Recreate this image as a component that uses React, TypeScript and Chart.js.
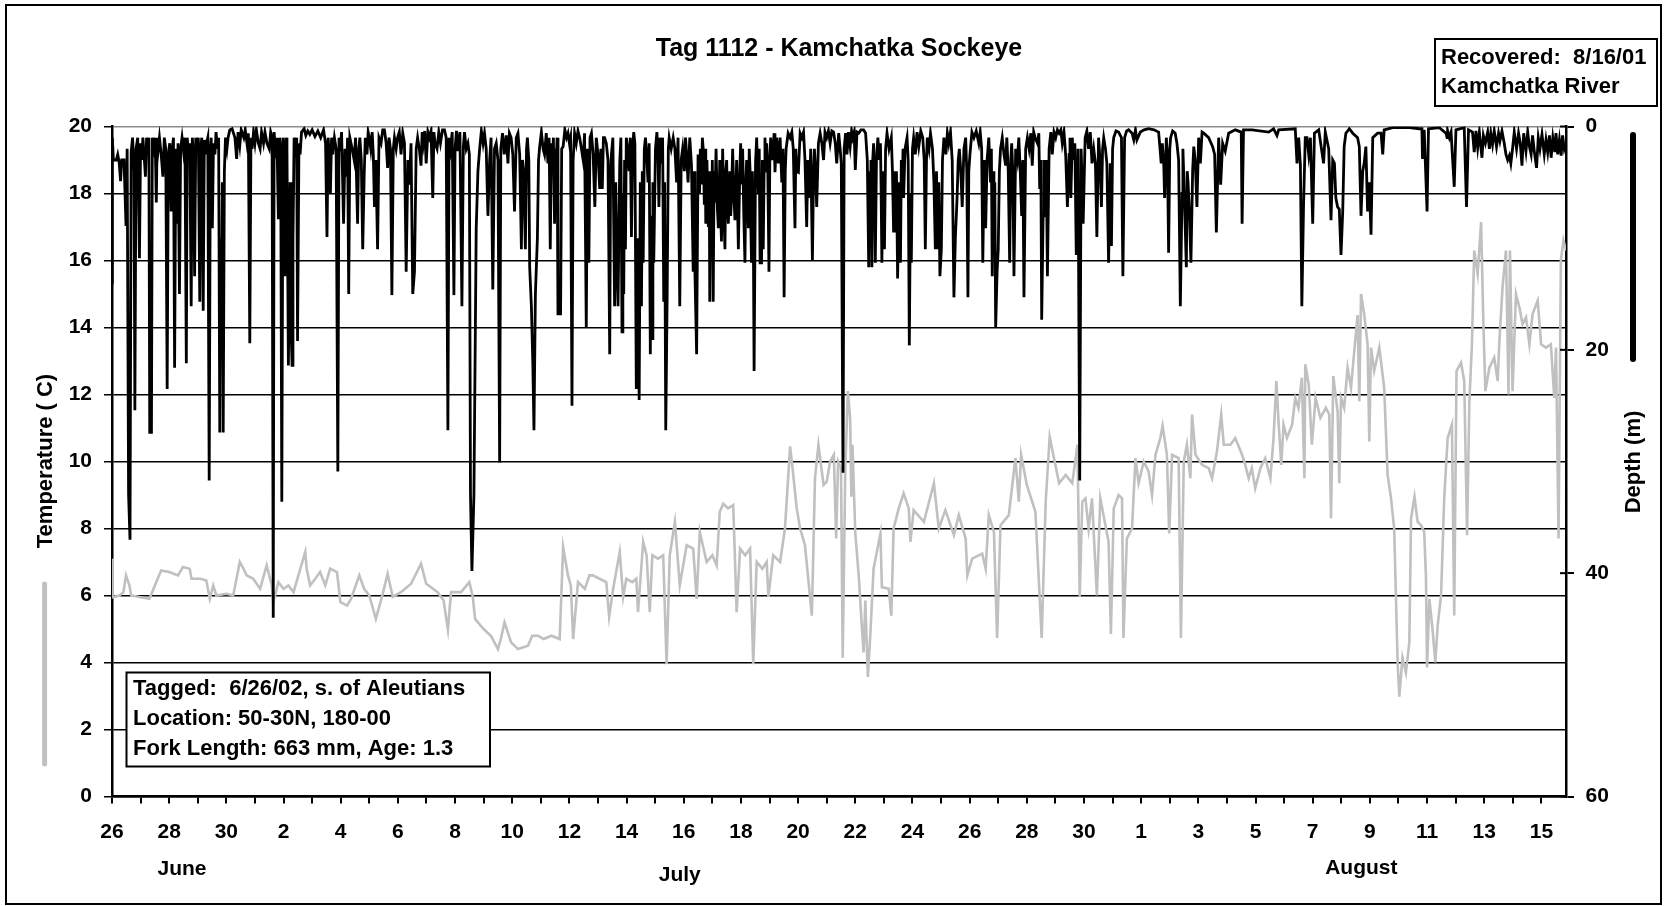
import React, { useEffect, useRef } from 'react';
import { Chart, registerables } from 'chart.js';

Chart.register(...registerables);

const W = 1664;
const H = 906;
const FONT = '"Liberation Sans", Arial, Helvetica, sans-serif';

// ---------------- DATA ----------------
const chartTitle = 'Tag 1112 - Kamchatka Sockeye';
const leftAxisTitle = 'Temperature ( C)';
const rightAxisTitle = 'Depth (m)';
const monthNames = ['June', 'July', 'August'];
const monthDays = [2.45, 19.86, 43.7];
const tagBoxLines = ['Tagged:  6/26/02, s. of Aleutians', 'Location: 50-30N, 180-00', 'Fork Length: 663 mm, Age: 1.3'];
const recBoxLines = ['Recovered:  8/16/01', 'Kamchatka River'];

// x axis: day 0 = June 26 ; one label every 2 days
const xTickLabels = [
  '26', '', '28', '', '30', '', '2', '', '4', '', '6', '', '8', '', '10', '', '12', '', '14', '', '16', '', '18', '', '20', '',
  '22', '', '24', '', '26', '', '28', '', '30', '', '1', '', '3', '', '5', '', '7', '', '9', '', '11', '', '13', '', '15',
];
const xMax = 50.86;
const tempMin = 0, tempMax = 20, tempStep = 2;
const depthMin = 0, depthMax = 60, depthStep = 20;

// temperature (deg C) [day, value]
const tempJune: number[][] = [
  [0, 7.1], [0.02, 5.95], [0.26, 6.0], [0.4, 6.1], [0.49, 6.6], [0.61, 6.3], [0.67, 6.0], [1.0, 5.95], [1.31, 5.9],
  [1.55, 6.4], [1.72, 6.75], [2.0, 6.7], [2.31, 6.6], [2.48, 6.85], [2.72, 6.8], [2.78, 6.5], [3.1, 6.5], [3.3, 6.45],
  [3.42, 5.9], [3.54, 6.3], [3.65, 6.0], [4.0, 6.05], [4.24, 6.0], [4.47, 7.0], [4.6, 6.8], [4.71, 6.6], [4.94, 6.5],
  [5.18, 6.2], [5.41, 6.9], [5.59, 6.3], [5.64, 5.8], [5.82, 6.4], [6.0, 6.2], [6.17, 6.3], [6.35, 6.1], [6.52, 6.6],
  [6.76, 7.3], [6.81, 6.8], [6.93, 6.3], [7.11, 6.5], [7.28, 6.7], [7.46, 6.3], [7.63, 6.8], [7.87, 6.7], [7.99, 5.8],
  [8.22, 5.7], [8.36, 5.9],
];
const tempJulyA: number[][] = [
  [8.65, 6.6], [8.82, 6.2], [9.0, 6.0], [9.23, 5.3], [9.47, 6.05], [9.64, 6.65], [9.82, 5.96], [10.11, 6.1], [10.46, 6.35],
  [10.81, 6.95], [10.99, 6.35], [11.39, 6.1], [11.6, 5.85], [11.75, 4.98], [11.86, 6.1], [12.21, 6.1], [12.5, 6.4],
  [12.62, 5.96], [12.7, 5.3], [12.8, 5.2], [13.0, 5.0], [13.26, 4.79], [13.5, 4.4], [13.6, 4.7], [13.73, 5.2], [13.96, 4.6],
  [14.2, 4.4], [14.55, 4.5], [14.7, 4.8], [14.9, 4.8], [15.1, 4.7], [15.37, 4.8], [15.66, 4.7], [15.78, 7.45], [15.95, 6.6],
  [16.05, 6.3], [16.13, 4.7], [16.3, 6.4], [16.54, 6.2], [16.7, 6.6], [16.82, 6.6], [17.05, 6.5], [17.29, 6.4], [17.39, 5.37],
  [17.53, 6.2], [17.76, 7.3], [17.88, 5.96], [17.99, 6.5], [18.2, 6.4], [18.34, 6.5], [18.4, 5.5], [18.58, 7.6], [18.7, 7.2],
  [18.81, 5.5], [18.9, 7.2], [19.1, 7.1], [19.28, 7.2], [19.4, 3.95], [19.51, 7.2], [19.69, 8.2], [19.86, 6.3], [20.1, 7.5],
  [20.33, 7.4], [20.45, 5.9], [20.56, 7.9], [20.8, 7.0], [21.0, 7.2], [21.15, 6.9], [21.26, 8.5], [21.38, 8.74], [21.55, 8.6],
  [21.73, 8.7], [21.85, 5.5], [21.97, 7.4], [22.15, 7.2], [22.32, 7.4], [22.43, 3.95], [22.55, 7.0], [22.75, 6.8], [22.9, 7.0],
  [22.96, 5.96], [23.13, 7.2], [23.37, 7.0], [23.54, 8.0], [23.72, 10.45], [23.83, 9.6], [23.95, 8.6], [24.07, 8.0],
  [24.24, 7.5], [24.48, 5.4], [24.59, 9.5], [24.71, 10.5], [24.89, 9.3], [25.0, 9.4], [25.12, 10.0], [25.25, 10.2],
  [25.33, 7.7], [25.4, 10.0],
];
const tempJulyB: number[][] = [
  [25.5, 9.8], [25.56, 4.14], [25.65, 9.8], [25.74, 12.1], [25.82, 11.3], [25.86, 8.95], [25.9, 10.5], [26.0, 7.85],
  [26.12, 6.6], [26.23, 5.06], [26.29, 4.3], [26.35, 5.85], [26.44, 3.57], [26.53, 4.9], [26.64, 6.8], [26.88, 7.85],
  [26.93, 6.25], [27.17, 6.2], [27.26, 5.4], [27.34, 8.0], [27.52, 8.6], [27.69, 9.05], [27.87, 8.6], [27.93, 7.6],
  [28.04, 8.55], [28.4, 8.2], [28.75, 9.35], [28.92, 8.0], [29.15, 8.55], [29.45, 7.8], [29.62, 8.4], [29.86, 7.7],
  [29.92, 6.6], [30.09, 7.1], [30.44, 7.25], [30.56, 6.8], [30.67, 8.4], [30.85, 7.9], [30.96, 4.73], [31.08, 8.1],
  [31.37, 8.4], [31.6, 10.1], [31.72, 8.8], [31.8, 10.2], [32.0, 9.3], [32.3, 8.5], [32.52, 4.73], [32.66, 8.8],
  [32.8, 10.74], [32.95, 10.1], [33.13, 9.35], [33.36, 9.6], [33.59, 9.35], [33.77, 10.5], [33.85, 5.96], [33.94, 8.8],
  [34.05, 8.9], [34.16, 8.0], [34.28, 8.9], [34.45, 6.0], [34.57, 8.9], [34.75, 8.1], [34.86, 7.6], [34.94, 4.85],
  [35.04, 8.6], [35.21, 9.0], [35.33, 8.9], [35.38, 4.73], [35.5, 7.7], [35.68, 8.0], [35.8, 10.1], [35.91, 9.35],
];
const tempAug: number[][] = [
  [36.09, 10.0], [36.26, 9.7], [36.38, 9.0], [36.5, 10.2], [36.67, 10.7], [36.75, 11.07], [36.9, 10.2], [36.98, 7.85],
  [37.08, 10.2], [37.31, 10.1], [37.39, 4.73], [37.49, 10.0], [37.6, 10.5], [37.72, 9.5], [37.78, 11.4], [37.9, 10.2],
  [38.13, 9.9], [38.36, 9.8], [38.48, 9.5], [38.65, 10.3], [38.8, 11.4], [38.89, 10.5], [39.12, 10.5], [39.29, 10.7],
  [39.53, 10.2], [39.64, 9.9], [39.76, 9.5], [39.87, 9.8], [39.99, 9.2], [40.17, 9.8], [40.34, 10.1], [40.52, 9.5],
  [40.63, 10.7], [40.73, 12.4], [40.81, 11.1], [40.9, 9.9], [40.98, 11.1], [41.1, 10.7], [41.28, 11.1], [41.39, 11.9],
  [41.5, 11.6], [41.62, 12.5], [41.71, 9.5], [41.74, 12.9], [41.86, 12.3], [41.97, 10.5], [42.1, 11.9], [42.27, 11.3],
  [42.46, 11.6], [42.58, 11.4], [42.64, 8.3], [42.72, 12.55], [42.87, 11.5], [42.93, 9.35], [42.99, 11.9], [43.1, 11.6],
  [43.22, 12.8], [43.34, 12.2], [43.47, 13.46], [43.57, 14.37], [43.63, 11.8], [43.69, 15.0], [43.8, 14.4], [43.92, 13.5],
  [43.98, 10.6], [44.04, 13.4], [44.15, 12.7], [44.33, 13.4], [44.5, 12.2], [44.62, 9.6], [44.74, 8.9], [44.85, 8.0],
  [44.97, 4.0], [45.03, 2.98], [45.14, 4.15], [45.26, 3.7], [45.38, 4.6], [45.44, 8.3], [45.56, 8.95], [45.67, 8.2],
  [45.79, 8.1], [45.9, 7.9], [45.96, 6.6], [46.0, 3.85], [46.08, 5.9], [46.19, 5.0], [46.29, 4.0], [46.37, 5.1],
  [46.49, 6.0], [46.6, 8.9], [46.72, 10.7], [46.87, 11.1], [46.95, 5.4], [47.03, 12.7], [47.19, 12.95], [47.3, 12.4],
  [47.4, 7.8], [47.48, 11.8], [47.57, 13.5], [47.65, 16.3], [47.77, 15.6], [47.89, 17.15], [47.97, 14.1], [48.04, 12.1],
  [48.18, 12.8], [48.35, 13.1], [48.47, 12.4], [48.53, 13.6], [48.64, 15.2], [48.76, 16.3], [48.85, 12.0], [48.9, 16.3],
  [48.99, 12.1], [49.11, 15.0], [49.23, 14.6], [49.34, 14.1], [49.46, 14.3], [49.58, 13.5], [49.69, 14.4], [49.87, 14.8],
  [49.99, 13.5], [50.16, 13.4], [50.33, 13.5], [50.45, 11.9], [50.51, 13.4], [50.6, 7.7], [50.68, 16.0], [50.77, 16.6],
  [50.86, 16.3],
];

// depth (m) [day, value]
const depthJune: number[][] = [
  [0, 14], [0.01, 1], [0.05, 3], [0.15, 3], [0.2, 2.5], [0.25, 3.2], [0.3, 4.9], [0.34, 3], [0.42, 3], [0.49, 8.9],
  [0.53, 2], [0.58, 33], [0.63, 37], [0.67, 2.3], [0.72, 1], [0.77, 4], [0.8, 25.4], [0.84, 2], [0.9, 1], [0.96, 11.8],
  [1.0, 1.5], [1.04, 3], [1.08, 1], [1.12, 2.5], [1.17, 4.5], [1.21, 1], [1.25, 2.2], [1.29, 1], [1.32, 27.4], [1.38, 27.4],
  [1.41, 1], [1.47, 2], [1.51, 1], [1.55, 6.8], [1.58, 1], [1.62, 2], [1.66, 1], [1.72, 2.5], [1.78, 4.5], [1.83, 1],
  [1.88, 2], [1.93, 23.5], [1.97, 2.5], [2.02, 1.5], [2.07, 7.6], [2.11, 2], [2.15, 1], [2.19, 21.6], [2.23, 2], [2.27, 8.7],
  [2.31, 1.5], [2.36, 15], [2.4, 2], [2.45, 1], [2.5, 2.2], [2.55, 1], [2.6, 21.2], [2.63, 1], [2.68, 2.5], [2.72, 1.5],
  [2.77, 16.1], [2.81, 1], [2.85, 2.5], [2.89, 13.4], [2.93, 1], [2.97, 2.5], [3.02, 1], [3.07, 15.7], [3.1, 2], [3.14, 1],
  [3.19, 16.5], [3.23, 1.2], [3.27, 2.5], [3.3, 1.6], [3.35, 1], [3.4, 31.7], [3.44, 2], [3.47, 1], [3.51, 9.1],
  [3.55, 1.5], [3.6, 2.5], [3.64, 0.5], [3.69, 2], [3.73, 1], [3.77, 27.4], [3.8, 10], [3.83, 16.9], [3.86, 5],
  [3.89, 27.4], [3.93, 4.1], [3.97, 1], [4.02, 2], [4.06, 1], [4.12, 0.3], [4.2, 0.2], [4.3, 1], [4.36, 2.9], [4.41, 0.5],
  [4.47, 1.7], [4.52, 0.3], [4.61, 1], [4.66, 0.3], [4.72, 1.5], [4.77, 0.6], [4.82, 19.4], [4.86, 1], [4.9, 2],
  [4.95, 0.5], [5.0, 1.5], [5.05, 0.3], [5.12, 1.5], [5.18, 2], [5.23, 0.5], [5.3, 1.5], [5.35, 0.5], [5.42, 1.5],
  [5.5, 2], [5.55, 0.5], [5.6, 1], [5.64, 44], [5.67, 0.5], [5.72, 2], [5.77, 1], [5.82, 8.3], [5.86, 1], [5.9, 2],
  [5.94, 33.6], [5.98, 1], [6.02, 2], [6.05, 13.4], [6.09, 1], [6.12, 2], [6.17, 21.4], [6.23, 5], [6.26, 18], [6.3, 21.4],
  [6.33, 10.3], [6.37, 1], [6.42, 2], [6.46, 1], [6.49, 19.2], [6.54, 1.5], [6.58, 2.5], [6.63, 0.5], [6.72, 0.2],
  [6.78, 0.8], [6.85, 0.4], [6.92, 0.7], [7.0, 0.3], [7.1, 0.9], [7.2, 0.4], [7.3, 1], [7.4, 0.3], [7.47, 1.5], [7.52, 9.9],
  [7.56, 1], [7.6, 2.5], [7.64, 6], [7.68, 1], [7.72, 2.5], [7.78, 1], [7.84, 2], [7.9, 30.9], [7.94, 1], [7.98, 2.2],
  [8.03, 0.5], [8.1, 8.7], [8.15, 2], [8.2, 4.5], [8.24, 1], [8.28, 15], [8.32, 1],
];
const depthJulyA: number[][] = [
  [8.4, 2], [8.47, 3], [8.52, 1], [8.59, 8.7], [8.63, 2], [8.67, 1], [8.72, 3], [8.77, 11], [8.82, 4.5], [8.86, 1],
  [8.92, 2.5], [8.96, 0.5], [9.0, 1], [9.05, 2], [9.1, 0.5], [9.14, 2.5], [9.18, 7.2], [9.23, 3], [9.29, 11], [9.34, 1],
  [9.41, 1.5], [9.47, 0.3], [9.53, 0.3], [9.59, 1.5], [9.64, 3.7], [9.69, 1], [9.74, 2], [9.79, 15.1], [9.84, 2], [9.88, 1],
  [9.94, 2], [9.99, 1], [10.05, 0.5], [10.11, 2.5], [10.17, 0.6], [10.23, 1.5], [10.29, 13], [10.35, 3], [10.4, 5.2],
  [10.46, 1.5], [10.52, 15], [10.58, 13], [10.64, 2], [10.69, 1], [10.75, 2], [10.81, 3.5], [10.85, 0.5], [10.89, 1.5],
  [10.94, 0.4], [10.99, 3.3], [11.05, 0.5], [11.1, 1], [11.16, 0.4], [11.22, 6.4], [11.26, 0.5], [11.3, 1.5], [11.37, 2],
  [11.43, 0.5], [11.49, 1.5], [11.56, 0.3], [11.63, 0.3], [11.69, 1], [11.75, 27.2], [11.79, 1], [11.84, 2], [11.9, 0.5],
  [11.96, 15.1], [12.0, 2], [12.05, 0.4], [12.1, 2.2], [12.17, 0.5], [12.24, 16.1], [12.29, 1.8], [12.33, 0.5], [12.39, 2],
  [12.45, 1.5], [12.5, 2.5], [12.54, 33], [12.59, 39.8], [12.66, 33], [12.74, 9.1], [12.8, 4], [12.86, 2], [12.92, 0.4],
  [12.98, 1.5], [13.03, 0.6], [13.09, 2], [13.15, 8], [13.21, 3], [13.26, 1], [13.32, 14.6], [13.38, 2], [13.44, 1.5],
  [13.5, 3], [13.56, 30.1], [13.6, 2], [13.66, 0.6], [13.72, 2.5], [13.79, 0.8], [13.85, 3.3], [13.9, 0.6], [13.96, 1],
  [14.02, 2.5], [14.08, 7.6], [14.14, 1], [14.2, 0.6], [14.26, 2.5], [14.32, 11], [14.36, 3], [14.4, 4], [14.46, 11],
  [14.5, 2], [14.53, 1], [14.58, 3], [14.61, 12.6], [14.67, 16.1], [14.72, 21.2], [14.76, 27.2], [14.81, 15], [14.88, 10],
  [14.92, 3], [14.96, 1.8], [15.02, 0.5], [15.08, 2], [15.13, 2.5], [15.19, 0.6], [15.25, 3.3], [15.29, 1], [15.33, 11],
  [15.37, 1.5], [15.4, 4], [15.44, 1], [15.48, 8.7], [15.51, 2], [15.54, 3], [15.57, 1], [15.6, 16.9], [15.65, 14],
  [15.69, 16.9], [15.73, 2], [15.78, 1.8], [15.84, 0.3], [15.9, 1], [15.95, 0.6], [16.0, 1.5], [16.04, 1], [16.09, 25],
  [16.13, 3], [16.18, 0.6], [16.24, 1.5], [16.3, 0.4], [16.36, 1], [16.42, 2], [16.48, 3], [16.53, 0.6], [16.59, 18],
  [16.63, 2], [16.68, 12.2], [16.72, 1], [16.77, 0.6], [16.83, 2.5], [16.89, 7.2],
];
const depthJulyB: number[][] = [
  [16.94, 1], [17.0, 2.5], [17.06, 5.6], [17.1, 2], [17.15, 5.6], [17.19, 1], [17.23, 1], [17.29, 1.5], [17.35, 3],
  [17.41, 20.4], [17.44, 4], [17.47, 2.5], [17.52, 1], [17.58, 16.1], [17.62, 5], [17.66, 12], [17.7, 16.1], [17.76, 3.3],
  [17.8, 1], [17.84, 18.4], [17.87, 6], [17.9, 15], [17.93, 3], [17.96, 11], [17.99, 1], [18.04, 2], [18.09, 4], [18.13, 1],
  [18.17, 9.9], [18.21, 2], [18.25, 0.5], [18.29, 1.5], [18.34, 23.5], [18.39, 10], [18.44, 24.5], [18.48, 5],
  [18.52, 16.1], [18.55, 4], [18.58, 12.2], [18.62, 2], [18.66, 1], [18.7, 2.5], [18.75, 5], [18.79, 1.5], [18.83, 20.4],
  [18.86, 8], [18.89, 19], [18.92, 5], [18.95, 12.2], [19.01, 2], [19.06, 0.5], [19.1, 2.5], [19.13, 7.2], [19.17, 1],
  [19.22, 3.3], [19.26, 1], [19.3, 15.7], [19.33, 5], [19.37, 27.2], [19.42, 15], [19.46, 2], [19.49, 1], [19.56, 2],
  [19.63, 1], [19.69, 2], [19.75, 5], [19.8, 1], [19.86, 16.1], [19.91, 3], [19.96, 2], [20.02, 4], [20.06, 1], [20.1, 2.5],
  [20.15, 5], [20.21, 1], [20.27, 3.5], [20.33, 13], [20.36, 4], [20.39, 13], [20.45, 20.4], [20.5, 2.5], [20.55, 6],
  [20.58, 2], [20.62, 5.2], [20.65, 1], [20.68, 2], [20.72, 7], [20.75, 2], [20.77, 8.7], [20.81, 3], [20.86, 9], [20.89, 4],
  [20.91, 15.7], [20.94, 5], [20.97, 11], [21.0, 3], [21.03, 15.7], [21.06, 4], [21.09, 6.8], [21.13, 2], [21.17, 7],
  [21.21, 9.1], [21.26, 3], [21.29, 8], [21.32, 10.3], [21.36, 2], [21.4, 7], [21.44, 11], [21.47, 4], [21.5, 3], [21.53, 7],
  [21.56, 8.7], [21.61, 4], [21.64, 8], [21.67, 6.4], [21.71, 2], [21.75, 6], [21.79, 8.4], [21.85, 3], [21.88, 7],
  [21.91, 11], [21.96, 4], [21.99, 1.5], [22.02, 5.2], [22.06, 2], [22.1, 8], [22.14, 12.2], [22.17, 5], [22.2, 3],
  [22.23, 6], [22.26, 9.1], [22.29, 2], [22.32, 4], [22.34, 8], [22.37, 12.2], [22.4, 4], [22.43, 8], [22.46, 21.9],
  [22.51, 3.3], [22.55, 1], [22.61, 6], [22.64, 2], [22.67, 12.2], [22.72, 12.2], [22.75, 3], [22.78, 11], [22.81, 4],
  [22.84, 1], [22.87, 3], [22.9, 1.5], [22.94, 4], [22.98, 13], [23.01, 3], [23.04, 1], [23.09, 3], [23.13, 2], [23.16, 0.6],
  [23.19, 4.1], [23.25, 1], [23.31, 3.3], [23.37, 1], [23.43, 5], [23.47, 2], [23.51, 15.3], [23.55, 4], [23.58, 2],
  [23.65, 0.6], [23.72, 1], [23.78, 0.5], [23.83, 2], [23.89, 9.1], [23.92, 2], [23.95, 4], [24.01, 4.1], [24.07, 0.6],
  [24.13, 1], [24.19, 0.5], [24.24, 3], [24.3, 9], [24.34, 3], [24.39, 6.4], [24.44, 2], [24.5, 12], [24.54, 4], [24.57, 2],
  [24.61, 4], [24.65, 7.2], [24.71, 1.5], [24.77, 0.6], [24.83, 1.5], [24.89, 3], [24.94, 0.5], [25.0, 1], [25.06, 0.4],
  [25.12, 1.5], [25.18, 0.4], [25.24, 0.5], [25.3, 1.5], [25.35, 3.3],
];
const depthJulyC: number[][] = [
  [25.42, 0.6], [25.47, 2], [25.51, 3.3], [25.57, 31], [25.61, 2], [25.66, 0.6], [25.71, 2.5], [25.76, 0.5], [25.82, 1.8],
  [25.87, 0.4], [25.91, 1], [25.96, 0.5], [26.0, 3.9], [26.06, 0.5], [26.12, 0.6], [26.2, 0.3], [26.29, 0.3], [26.36, 0.6],
  [26.42, 3], [26.47, 12.6], [26.5, 4], [26.53, 6.8], [26.55, 3], [26.58, 12.6], [26.61, 3], [26.64, 1.5], [26.67, 4],
  [26.7, 12.2], [26.74, 3], [26.79, 1], [26.84, 3], [26.88, 1.5], [26.9, 5], [26.93, 12.2], [26.97, 4], [27.02, 11],
  [27.06, 2], [27.11, 0.6], [27.18, 2], [27.26, 1], [27.3, 4], [27.34, 9.5], [27.37, 4], [27.4, 9.5], [27.44, 4],
  [27.48, 13.6], [27.53, 5], [27.58, 12.2], [27.61, 3], [27.64, 6], [27.67, 2], [27.69, 6.4], [27.74, 2], [27.81, 1],
  [27.85, 3], [27.89, 19.6], [27.93, 6], [27.96, 12.2], [28.0, 2], [28.04, 1], [28.1, 2.5], [28.16, 0.5], [28.22, 1.8],
  [28.29, 0.4], [28.36, 1], [28.41, 3], [28.45, 11], [28.49, 3], [28.52, 1], [28.58, 2], [28.63, 0.6], [28.7, 2],
  [28.75, 5], [28.8, 11], [28.84, 4], [28.88, 11], [28.92, 5], [28.96, 13.4], [29.01, 11], [29.05, 3], [29.1, 1],
  [29.17, 2.5], [29.22, 0.6], [29.27, 1.5], [29.33, 0.5], [29.39, 3], [29.45, 15.3], [29.5, 10], [29.56, 6.4], [29.6, 3],
  [29.64, 2], [29.69, 4], [29.74, 7.2], [29.8, 2], [29.86, 1], [29.9, 4], [29.94, 15.3], [29.97, 4], [30.01, 2.5],
  [30.08, 0.5], [30.15, 1], [30.23, 0.4], [30.32, 1.5], [30.37, 0.5], [30.42, 2], [30.46, 12.2], [30.51, 3], [30.56, 9.1],
  [30.61, 3], [30.67, 1], [30.73, 5], [30.76, 2], [30.79, 13.4], [30.82, 4], [30.85, 8.1], [30.88, 5], [30.91, 18],
  [30.96, 13], [31.0, 11], [31.04, 4], [31.08, 2], [31.14, 1], [31.2, 2.5], [31.26, 3.5], [31.3, 1], [31.35, 4],
  [31.4, 12.2], [31.44, 3], [31.47, 1.5], [31.51, 4], [31.55, 13.4], [31.61, 2], [31.67, 3], [31.72, 1], [31.77, 4],
  [31.82, 8], [31.86, 3], [31.9, 15.3], [31.96, 2], [32.02, 1], [32.08, 2], [32.14, 0.6], [32.19, 3.5], [32.24, 0.5],
  [32.29, 1], [32.37, 1.5], [32.42, 0.6], [32.45, 5.6], [32.49, 3], [32.52, 17.3], [32.57, 8], [32.6, 3], [32.64, 5.5],
  [32.68, 3], [32.72, 13.4], [32.78, 2], [32.84, 0.5], [32.89, 2.5], [32.95, 0.5], [33.01, 1], [33.07, 0.3], [33.13, 0.6],
  [33.19, 0.3], [33.24, 1.5], [33.3, 0.5], [33.36, 2.6], [33.42, 7.2], [33.48, 2.5], [33.51, 1], [33.54, 6.4], [33.59, 1],
  [33.63, 3], [33.68, 1.5], [33.73, 11.5], [33.79, 2], [33.85, 31.7], [33.9, 2], [33.97, 8.7], [34.04, 1],
];
const depthAug: number[][] = [
  [34.1, 0.4], [34.16, 2], [34.22, 0.5], [34.28, 3.3], [34.34, 2], [34.4, 3.3], [34.45, 9.9], [34.51, 1], [34.56, 3],
  [34.61, 7.2], [34.65, 2], [34.69, 1], [34.75, 2], [34.8, 3.3], [34.86, 12.2], [34.92, 3.3], [34.96, 10.7], [35.0, 2],
  [35.04, 1], [35.12, 0.4], [35.21, 0.5], [35.31, 1], [35.36, 13.4], [35.42, 1], [35.49, 0.4], [35.56, 0.3], [35.68, 0.6],
  [35.74, 1.2], [35.8, 0.3], [35.85, 1.2], [35.97, 0.5], [36.1, 0.3], [36.26, 0.2], [36.45, 0.3], [36.61, 0.5], [36.66, 2],
  [36.7, 3.3], [36.74, 1.5], [36.79, 3.5], [36.82, 6.4], [36.88, 1], [36.92, 3], [36.96, 11.3], [37.0, 2], [37.03, 1],
  [37.1, 0.4], [37.19, 0.6], [37.25, 1.5], [37.31, 3], [37.37, 16.1], [37.43, 6], [37.46, 2], [37.49, 4.5], [37.54, 9],
  [37.58, 12.6], [37.61, 4], [37.64, 5], [37.69, 8], [37.74, 12.2], [37.8, 4], [37.84, 1.8], [37.89, 3], [37.95, 7.2],
  [38.01, 1], [38.07, 3.3], [38.13, 0.5], [38.19, 0.6], [38.36, 1], [38.5, 1.8], [38.57, 2.5], [38.63, 9.5], [38.71, 1],
  [38.78, 5.2], [38.85, 1.5], [38.94, 2.2], [39.06, 0.6], [39.29, 0.3], [39.5, 0.5], [39.53, 8.7], [39.58, 0.3],
  [39.88, 0.3], [40.46, 0.5], [40.63, 0.2], [40.75, 0.8], [40.81, 0.3], [41.39, 0.2], [41.45, 3.3], [41.51, 1],
  [41.57, 3.5], [41.62, 16.1], [41.68, 7], [41.74, 1], [41.8, 1], [41.86, 2.5], [41.92, 1], [42.0, 8.7], [42.06, 0.6],
  [42.21, 0.3], [42.38, 3.3], [42.44, 0.5], [42.56, 2], [42.64, 8.4], [42.7, 3], [42.76, 3.3], [42.81, 6.4], [42.87, 7.2],
  [42.93, 7.4], [42.99, 11.5], [43.05, 7.6], [43.1, 1.8], [43.16, 0.6], [43.28, 0.2], [43.4, 0.6], [43.57, 1], [43.63, 1.8],
  [43.69, 8], [43.75, 4], [43.8, 3.3], [43.86, 1.8], [43.92, 7.6], [43.98, 5], [44.04, 9.7], [44.1, 1], [44.27, 0.6],
  [44.39, 0.6], [44.45, 2.5], [44.5, 0.3], [44.8, 0.1], [45.38, 0.1], [45.73, 0.2], [45.82, 0.2], [45.84, 2.9], [45.9, 0.3],
  [46.0, 7.6], [46.05, 0.2], [46.43, 0.1], [46.66, 0.6], [46.7, 1], [46.72, 0.4], [46.78, 1], [46.84, 0.5], [46.95, 5.4],
  [47.01, 0.3], [47.3, 0.1], [47.38, 7.2], [47.45, 0.3], [47.59, 0.5], [47.65, 2.3], [47.71, 0.4], [47.77, 1.9],
  [47.83, 0.5], [47.92, 2.8], [47.97, 0.8], [48.04, 1.5], [48.12, 0.5], [48.18, 2.0], [48.23, 0.6], [48.29, 1.6],
  [48.35, 0.4], [48.43, 1.8], [48.5, 0.6], [48.55, 1.3], [48.62, 0.4], [48.7, 1.5], [48.76, 2.5], [48.82, 3.0],
  [48.88, 2.6], [48.93, 3.3], [48.99, 2.0], [49.05, 0.5], [49.13, 2.0], [49.2, 0.6], [49.26, 1.5], [49.32, 3.5],
  [49.38, 0.6], [49.46, 2.2], [49.52, 0.5], [49.58, 1.8], [49.64, 2.5], [49.69, 0.8], [49.75, 2.2], [49.83, 3.7],
  [49.89, 1.0], [49.95, 2.0], [50.02, 0.7], [50.1, 2.5], [50.16, 1.2], [50.22, 2.3], [50.28, 0.8], [50.34, 2.8],
  [50.4, 1.0], [50.47, 2.3], [50.51, 0.6], [50.57, 2.5], [50.63, 1.2], [50.69, 2.6], [50.74, 0.8], [50.8, 2.0],
  [50.86, 1.5],
];

const toPts = (arr: number[][]) => arr.map(([x, y]) => ({ x, y }));

// ---------------- DRAWING ----------------
const extrasPlugin = {
  id: 'extras',
  afterDraw(chart: any) {
    const ctx: CanvasRenderingContext2D = chart.ctx;
    const xs = chart.scales.x;
    const yd = chart.scales.yD;
    const area = chart.chartArea;
    ctx.save();

    // right-axis inner tick marks
    ctx.strokeStyle = '#000';
    ctx.lineWidth = 2;
    for (let v = depthMin; v <= depthMax; v += depthStep) {
      const py = yd.getPixelForValue(v);
      ctx.beginPath();
      ctx.moveTo(area.right - 6, py);
      ctx.lineTo(area.right, py);
      ctx.stroke();
    }

    // outer border
    ctx.lineWidth = 2;
    ctx.strokeStyle = '#000';
    ctx.strokeRect(6, 5, 1655, 899);

    // title
    ctx.fillStyle = '#000';
    ctx.textAlign = 'center';
    ctx.textBaseline = 'alphabetic';
    ctx.font = `bold 25px ${FONT}`;
    ctx.fillText(chartTitle, (area.left + area.right) / 2, 56);

    // month labels
    ctx.font = `bold 21px ${FONT}`;
    ctx.textBaseline = 'middle';
    const monthY = [869, 875, 868];
    monthNames.forEach((m, i) => {
      ctx.fillText(m, xs.getPixelForValue(monthDays[i]), monthY[i]);
    });

    // axis titles
    ctx.font = `bold 22px ${FONT}`;
    ctx.save();
    ctx.translate(46, 461);
    ctx.rotate(-Math.PI / 2);
    ctx.textAlign = 'center';
    ctx.textBaseline = 'middle';
    ctx.fillText(leftAxisTitle, 0, 0);
    ctx.restore();
    ctx.save();
    ctx.translate(1634, 462);
    ctx.rotate(-Math.PI / 2);
    ctx.textAlign = 'center';
    ctx.textBaseline = 'middle';
    ctx.fillText(rightAxisTitle, 0, 0);
    ctx.restore();

    // legend bars
    ctx.lineCap = 'round';
    ctx.strokeStyle = '#c0c0c0';
    ctx.lineWidth = 5;
    ctx.beginPath();
    ctx.moveTo(44.6, 584);
    ctx.lineTo(44.6, 764);
    ctx.stroke();
    ctx.strokeStyle = '#000';
    ctx.lineWidth = 6;
    ctx.beginPath();
    ctx.moveTo(1633, 135);
    ctx.lineTo(1633, 359);
    ctx.stroke();
    ctx.lineCap = 'butt';

    // text boxes
    const drawBox = (x: number, y: number, w: number, h: number, lines: string[], tx: number, baselines: number[]) => {
      ctx.fillStyle = '#fff';
      ctx.fillRect(x, y, w, h);
      ctx.strokeStyle = '#000';
      ctx.lineWidth = 2;
      ctx.strokeRect(x, y, w, h);
      ctx.fillStyle = '#000';
      ctx.font = `bold 22px ${FONT}`;
      ctx.textAlign = 'left';
      ctx.textBaseline = 'alphabetic';
      lines.forEach((l, i) => ctx.fillText(l, tx, baselines[i]));
    };
    drawBox(126.5, 672.5, 363.5, 94, tagBoxLines, 133, [694.5, 724.5, 754.5]);
    drawBox(1435, 39, 222, 67, recBoxLines, 1441, [63.5, 92.5]);

    ctx.restore();
  },
};

export default function App() {
  const ref = useRef<HTMLCanvasElement | null>(null);
  useEffect(() => {
    if (!ref.current) return;
    const tickFont = { family: FONT, size: 21, weight: 'bold' as const };
    const chart = new Chart(ref.current, {
      type: 'line',
      data: {
        datasets: [
          {
            label: 'Depth',
            data: toPts([...depthJune, ...depthJulyA, ...depthJulyB, ...depthJulyC, ...depthAug]),
            xAxisID: 'x',
            yAxisID: 'yD',
            borderColor: '#000',
            borderWidth: 2.8,
            pointRadius: 0,
            tension: 0,
            fill: false,
            order: 0,
          },
          {
            label: 'Temperature',
            data: toPts([...tempJune, ...tempJulyA, ...tempJulyB, ...tempAug]),
            xAxisID: 'x',
            yAxisID: 'yT',
            borderColor: '#c0c0c0',
            borderWidth: 2.6,
            pointRadius: 0,
            tension: 0,
            fill: false,
            order: 1,
          },
        ],
      },
      options: {
        responsive: false,
        animation: false,
        devicePixelRatio: 1,
        layout: { padding: { top: 126.5, left: 0, right: 0, bottom: 0 } },
        plugins: { legend: { display: false }, title: { display: false }, tooltip: { enabled: false } },
        events: [],
        scales: {
          x: {
            type: 'linear',
            min: 0,
            max: xMax,
            afterFit: (s: any) => { s.height = 109.5; },
            ticks: {
              stepSize: 1,
              autoSkip: false,
              includeBounds: false,
              maxRotation: 0,
              minRotation: 0,
              color: '#000',
              font: tickFont,
              padding: 16,
              callback: (v: any) => xTickLabels[Math.round(Number(v))] ?? '',
            },
            grid: { display: true, drawOnChartArea: false, drawTicks: true, tickLength: 7, color: '#000', lineWidth: 2 },
            border: { display: true, color: '#000', width: 2.5 },
          },
          yT: {
            type: 'linear',
            position: 'left',
            min: tempMin,
            max: tempMax,
            afterFit: (s: any) => { s.width = 112; },
            ticks: { stepSize: tempStep, color: '#000', font: tickFont, padding: 12 },
            grid: {
              color: (c: any) => (c.tick && c.tick.value === tempMax ? '#8c8c8c' : '#000'),
              tickColor: '#000',
              lineWidth: 1.5,
              tickLength: 8,
              drawTicks: true,
            },
            border: { display: true, color: '#000', width: 2.5 },
          },
          yD: {
            type: 'linear',
            position: 'right',
            reverse: true,
            min: depthMin,
            max: depthMax,
            afterFit: (s: any) => { s.width = W - 1566; },
            ticks: { stepSize: depthStep, color: '#000', font: tickFont, padding: 11.5 },
            grid: { drawOnChartArea: false, drawTicks: true, tickLength: 8, color: '#000', lineWidth: 2 },
            border: { display: true, color: '#000', width: 2.5 },
          },
        },
      },
      plugins: [extrasPlugin],
    } as any);
    return () => chart.destroy();
  }, []);

  return (
    <div style={{ position: 'absolute', left: 0, top: 0, width: W, height: H, background: '#fff' }}>
      <canvas ref={ref} width={W} height={H} style={{ width: W, height: H, display: 'block' }} />
    </div>
  );
}
